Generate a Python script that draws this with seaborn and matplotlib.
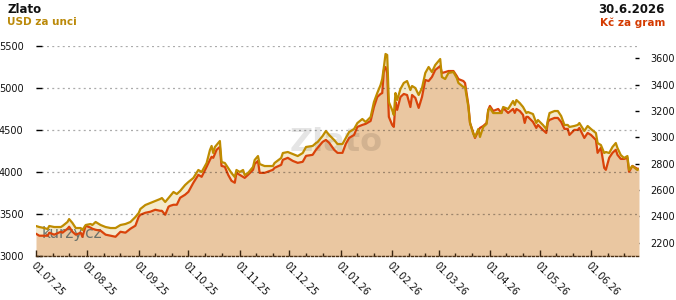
import matplotlib
matplotlib.use("Agg")
import matplotlib.pyplot as plt
import numpy as np
import pandas as pd
import seaborn as sns

# ---------------- data ----------------
dates = [
    "2025-07-01", "2025-07-03", "2025-07-06", "2025-07-08", "2025-07-09", "2025-07-12",
    "2025-07-16", "2025-07-17", "2025-07-20", "2025-07-21", "2025-07-23", "2025-07-25",
    "2025-07-28", "2025-07-29", "2025-07-31", "2025-08-03", "2025-08-04", "2025-08-06",
    "2025-08-09", "2025-08-12", "2025-08-15", "2025-08-18", "2025-08-21", "2025-08-24",
    "2025-08-27", "2025-08-30", "2025-09-01", "2025-09-02", "2025-09-05", "2025-09-08",
    "2025-09-11", "2025-09-14", "2025-09-15", "2025-09-17", "2025-09-19", "2025-09-20",
    "2025-09-22", "2025-09-24", "2025-09-26", "2025-09-29", "2025-10-01", "2025-10-04",
    "2025-10-07", "2025-10-09", "2025-10-12", "2025-10-14", "2025-10-15", "2025-10-16",
    "2025-10-17", "2025-10-18", "2025-10-20", "2025-10-21", "2025-10-23", "2025-10-25",
    "2025-10-27", "2025-10-29", "2025-10-30", "2025-11-01", "2025-11-03", "2025-11-04",
    "2025-11-06", "2025-11-09", "2025-11-10", "2025-11-12", "2025-11-13", "2025-11-16",
    "2025-11-21", "2025-11-22", "2025-11-26", "2025-11-27", "2025-11-30", "2025-12-03",
    "2025-12-06", "2025-12-09", "2025-12-11", "2025-12-15", "2025-12-17", "2025-12-18",
    "2025-12-21", "2025-12-23", "2025-12-25", "2025-12-28", "2025-12-30", "2026-01-02",
    "2026-01-04", "2026-01-06", "2026-01-09", "2026-01-11", "2026-01-14", "2026-01-16",
    "2026-01-19", "2026-01-21", "2026-01-23", "2026-01-25", "2026-01-26", "2026-01-27",
    "2026-01-28", "2026-01-29", "2026-01-30", "2026-02-01", "2026-02-02", "2026-02-03",
    "2026-02-04", "2026-02-06", "2026-02-08", "2026-02-10", "2026-02-12", "2026-02-13",
    "2026-02-15", "2026-02-17", "2026-02-19", "2026-02-21", "2026-02-23", "2026-02-25",
    "2026-02-27", "2026-03-02", "2026-03-03", "2026-03-05", "2026-03-07", "2026-03-10",
    "2026-03-12", "2026-03-13", "2026-03-16", "2026-03-17", "2026-03-19", "2026-03-20",
    "2026-03-22", "2026-03-23", "2026-03-25", "2026-03-26", "2026-03-28", "2026-03-30",
    "2026-03-31", "2026-04-01", "2026-04-03", "2026-04-06", "2026-04-08", "2026-04-09",
    "2026-04-12", "2026-04-15", "2026-04-16", "2026-04-17", "2026-04-19", "2026-04-21",
    "2026-04-22", "2026-04-23", "2026-04-24", "2026-04-27", "2026-04-29", "2026-04-30",
    "2026-05-03", "2026-05-05", "2026-05-06", "2026-05-07", "2026-05-10", "2026-05-12",
    "2026-05-14", "2026-05-16", "2026-05-18", "2026-05-19", "2026-05-22", "2026-05-24",
    "2026-05-25", "2026-05-28", "2026-05-30", "2026-06-01", "2026-06-04", "2026-06-05",
    "2026-06-07", "2026-06-09", "2026-06-10", "2026-06-12", "2026-06-14", "2026-06-16",
    "2026-06-17", "2026-06-19", "2026-06-21", "2026-06-23", "2026-06-24", "2026-06-26",
    "2026-06-29", "2026-06-30",
]

usd_per_oz = [
    3357, 3345, 3333, 3321, 3357, 3345, 3345, 3357, 3405, 3440, 3393, 3333,
    3333, 3310, 3369, 3381, 3369, 3405, 3369, 3345, 3333, 3333, 3369, 3381,
    3405, 3464, 3512, 3560, 3607, 3631, 3655, 3679, 3690, 3643, 3690, 3714,
    3762, 3738, 3774, 3845, 3881, 3929, 4024, 4000, 4107, 4262, 4310, 4226,
    4298, 4321, 4369, 4119, 4107, 4048, 3988, 3940, 4024, 4000, 4024, 3964,
    3988, 4060, 4143, 4190, 4095, 4071, 4071, 4107, 4167, 4226, 4238, 4214,
    4190, 4226, 4298, 4310, 4345, 4357, 4429, 4488, 4440, 4381, 4333, 4333,
    4405, 4476, 4512, 4583, 4631, 4595, 4655, 4833, 4940, 5036, 5107, 5250,
    5405, 5393, 4833, 4738, 4679, 4940, 4857, 4988, 5060, 5083, 4976, 5024,
    5000, 4917, 5000, 5179, 5250, 5190, 5274, 5345, 5131, 5107, 5179, 5190,
    5119, 5060, 5012, 5012, 4774, 4583, 4452, 4417, 4512, 4417, 4536, 4571,
    4738, 4762, 4702, 4702, 4702, 4774, 4750, 4845, 4798, 4857, 4821, 4774,
    4738, 4702, 4714, 4690, 4583, 4619, 4560, 4512, 4619, 4702, 4726, 4726,
    4667, 4560, 4560, 4536, 4548, 4560, 4583, 4488, 4548, 4512, 4464, 4345,
    4321, 4226, 4238, 4226, 4298, 4345, 4286, 4202, 4167, 4190, 4024, 4071,
    4024, 4036,
]

czk_per_gram = [
    2268, 2253, 2253, 2253, 2276, 2261, 2283, 2276, 2306, 2321, 2283, 2261,
    2276, 2245, 2329, 2314, 2306, 2298, 2291, 2261, 2253, 2245, 2283, 2276,
    2306, 2329, 2397, 2412, 2427, 2435, 2450, 2442, 2442, 2412, 2473, 2480,
    2488, 2488, 2541, 2564, 2586, 2655, 2715, 2700, 2776, 2829, 2852, 2844,
    2874, 2905, 2927, 2783, 2776, 2715, 2670, 2655, 2730, 2715, 2700, 2692,
    2715, 2753, 2798, 2821, 2730, 2730, 2753, 2768, 2791, 2829, 2844, 2821,
    2806, 2814, 2859, 2867, 2905, 2920, 2965, 2980, 2958, 2905, 2882, 2882,
    2950, 2995, 3018, 3079, 3094, 3102, 3124, 3230, 3306, 3329, 3336, 3511,
    3533, 3488, 3155, 3094, 3079, 3268, 3208, 3306, 3329, 3321, 3230, 3321,
    3299, 3223, 3306, 3435, 3427, 3458, 3511, 3541, 3488, 3495, 3503, 3503,
    3465, 3442, 3427, 3412, 3245, 3109, 3033, 2995, 3049, 3071, 3086, 3109,
    3208, 3238, 3200, 3215, 3185, 3223, 3185, 3215, 3185, 3215, 3200, 3170,
    3109, 3155, 3155, 3117, 3071, 3094, 3056, 3033, 3117, 3132, 3147, 3147,
    3117, 3064, 3064, 3018, 3056, 3056, 3071, 2995, 3033, 3018, 2980, 2882,
    2920, 2768, 2753, 2844, 2882, 2905, 2867, 2836, 2836, 2844, 2738, 2783,
    2761, 2761,
]

usd_ticks = [3000, 3500, 4000, 4500, 5000, 5500]
czk_ticks = [2200, 2400, 2600, 2800, 3000, 3200, 3400, 3600]
usd_range = (3000, 5500)
czk_range = (2099, 3693)
month_starts = pd.date_range("2025-07-01", "2026-06-01", freq="MS")
month_labels = [d.strftime("%d.%m.%y") for d in month_starts]

title_left = "Zlato"
subtitle_left = "USD za unci"
title_right = "30.6.2026"
subtitle_right = "Kč za gram"

# ---------------- styling ----------------
GOLD = "#BF8C00"
RED = "#D9430A"
TAN = "#EAC7A1"
CREAM = "#F4E9CB"
PINK = "#F6DEC6"

sns.set_theme(style="white")
plt.rcParams["font.family"] = ["DejaVu Sans"]

df = pd.DataFrame({"date": pd.to_datetime(dates), "usd": usd_per_oz, "czk": czk_per_gram})

W, H = 676, 300
fig = plt.figure(figsize=(W / 100, H / 100), dpi=100)
fig.patch.set_facecolor("white")
ax = fig.add_axes([36 / W, 1 - 256 / H, (639 - 36) / W, 210 / H])
ax2 = ax.twinx()

# ax (USD, gold line, grid) on top; ax2 (CZK, fills, red line) below
ax.set_zorder(2)
ax2.set_zorder(1)
ax.patch.set_visible(False)
ax2.patch.set_visible(False)

ax.set_ylim(*usd_range)
ax2.set_ylim(*czk_range)
xmin, xmax = pd.Timestamp("2025-07-01"), pd.Timestamp("2026-06-30")
ax.set_xlim(xmin, xmax)

# express USD series on the CZK axis scale for the area fills
usd_on_czk = czk_range[0] + (df["usd"] - usd_range[0]) / (usd_range[1] - usd_range[0]) * (czk_range[1] - czk_range[0])
low = np.minimum(df["czk"], usd_on_czk)
ax2.fill_between(df["date"], czk_range[0], low, color=TAN, lw=0, zorder=1)
ax2.fill_between(df["date"], df["czk"], usd_on_czk, where=usd_on_czk >= df["czk"],
                 interpolate=True, color=CREAM, lw=0, zorder=1)
ax2.fill_between(df["date"], usd_on_czk, df["czk"], where=df["czk"] > usd_on_czk,
                 interpolate=True, color=PINK, lw=0, zorder=1)

# watermarks
ax2.text(0.498, 0.54, "Zlato", transform=ax2.transAxes, ha="center", va="center",
         fontsize=23, fontweight="bold", color="black", alpha=0.1, zorder=2)
ax2.text(0.01, 0.105, "kurzy.cz", transform=ax2.transAxes, ha="left", va="center",
         fontsize=11, color="#4d5d5e", alpha=0.8, zorder=2)

sns.lineplot(data=df, x="date", y="czk", ax=ax2, color=RED, linewidth=1.6, zorder=3)
sns.lineplot(data=df, x="date", y="usd", ax=ax, color=GOLD, linewidth=1.6, zorder=3)

ax.set_xlabel("")
ax.set_ylabel("")
ax2.set_xlabel("")
ax2.set_ylabel("")

# grid
ax.yaxis.grid(True, color="black", alpha=0.33, linestyle=(0, (1.6, 2.6)), linewidth=0.9)
ax.xaxis.grid(False)
ax2.grid(False)

# spines
for s in ax.spines.values():
    s.set_visible(False)
for s in ax2.spines.values():
    s.set_visible(False)
ax.spines["bottom"].set_visible(True)
ax.spines["bottom"].set_color("#4a2e12")
ax.spines["bottom"].set_linestyle((0, (1.5, 1.5)))
ax.spines["bottom"].set_linewidth(1.0)

# ticks
ax.set_yticks(usd_ticks)
ax.set_yticklabels([str(v) for v in usd_ticks])
ax2.set_yticks(czk_ticks)
ax2.set_yticklabels([str(v) for v in czk_ticks])
ax.tick_params(axis="y", direction="in", length=4, width=1, color="black",
               labelsize=7, labelcolor="#111111", pad=9, left=True)
ax2.tick_params(axis="y", direction="in", length=3, width=1, color="black",
                labelsize=7, labelcolor="#111111", pad=8, right=True)

ax.set_xticks(month_starts)
ax.set_xticklabels(month_labels)
minor = [d + pd.Timedelta(days=k) for d in month_starts for k in (10, 20)]
ax.set_xticks(sorted(set(minor)), minor=True)
ax.tick_params(axis="x", which="major", direction="in", length=4, width=1,
               color="#3a2510", labelsize=7, labelcolor="#111111", pad=3, bottom=True)
ax.tick_params(axis="x", which="minor", direction="in", length=2.5, width=1,
               color="#3a2510", bottom=True)
for lbl in ax.get_xticklabels():
    lbl.set_rotation(-45)
    lbl.set_ha("left")
    lbl.set_va("top")
    lbl.set_rotation_mode("anchor")

# titles
fig.text(7 / W, 1 - 3 / H, title_left, ha="left", va="top", fontsize=8.5,
         fontweight="bold", color="#111111")
fig.text(7 / W, 1 - 17 / H, subtitle_left, ha="left", va="top", fontsize=7.5,
         fontweight="bold", color="#BB8A0A")
fig.text(665 / W, 1 - 3 / H, title_right, ha="right", va="top", fontsize=8.5,
         fontweight="bold", color="#111111")
fig.text(665 / W, 1 - 17 / H, subtitle_right, ha="right", va="top", fontsize=7.5,
         fontweight="bold", color="#D43A00")

fig.savefig("out.png", dpi=100, facecolor="white")
